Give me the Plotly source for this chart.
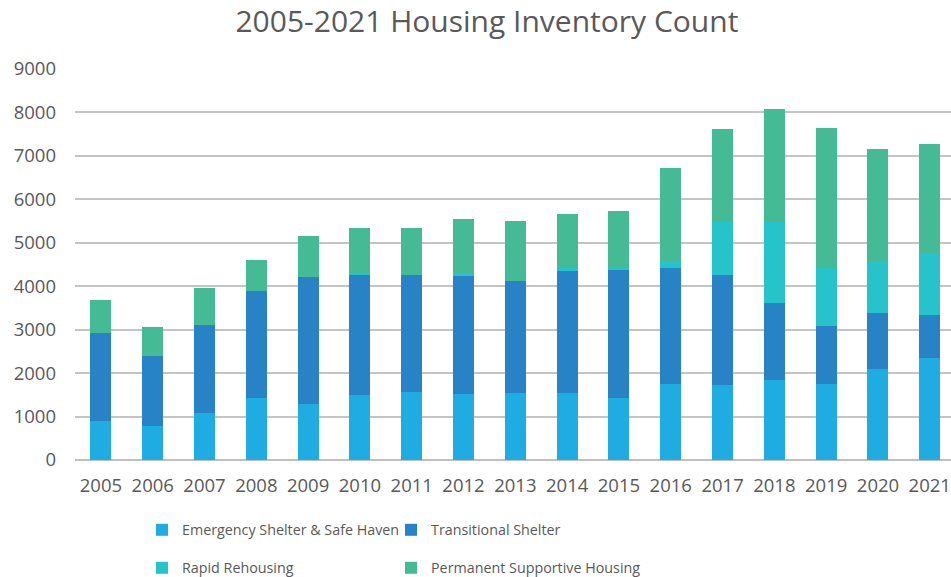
import plotly.graph_objects as go

years = [str(y) for y in range(2005, 2022)]
emergency = [890, 780, 1090, 1435, 1290, 1495, 1560, 1520, 1535, 1535, 1435, 1760, 1735, 1840, 1760, 2095, 2350]
transitional = [2030, 1605, 2015, 2450, 2920, 2765, 2700, 2715, 2585, 2810, 2945, 2660, 2525, 1775, 1325, 1300, 980]
rapid = [0, 0, 0, 0, 0, 40, 0, 60, 0, 75, 45, 160, 1215, 1860, 1335, 1190, 1425]
permanent = [756, 685, 845, 720, 940, 1050, 1090, 1250, 1390, 1235, 1300, 2140, 2140, 2600, 3215, 2570, 2530]

series = [
    ("Emergency Shelter & Safe Haven", emergency, "#1FACE2", "legend"),
    ("Transitional Shelter", transitional, "#2782C6", "legend2"),
    ("Rapid Rehousing", rapid, "#27C3CB", "legend3"),
    ("Permanent Supportive Housing", permanent, "#44BA95", "legend4"),
]

fig = go.Figure()
for name, vals, color, lg in series:
    fig.add_trace(go.Bar(x=years, y=vals, name=name, marker=dict(color=color, line=dict(width=0)),
                         legend=lg, showlegend=True))

text_color = "#595959"
font_family = "Open Sans"

legend_common = dict(orientation="h", xref="container", yref="container",
                     xanchor="left", yanchor="middle", bgcolor="rgba(0,0,0,0)",
                     font=dict(family=font_family, size=14.3, color=text_color),
                     itemwidth=30, visible=True)

col1 = 0.1535 - 4 / 951
col2 = 0.3996 + 11 / 951
row1 = 1 - 530 / 577
row2 = 1 - 568 / 577

fig.update_layout(
    width=951, height=577, autosize=False, showlegend=True,
    barmode="stack", bargap=0.595,
    plot_bgcolor="white", paper_bgcolor="white",
    margin=dict(l=75, r=0, t=69, b=117),
    title=dict(text="2005-2021 Housing Inventory Count", xref="container", yref="container",
               x=0.512, xanchor="center", y=0.962, yanchor="middle",
               font=dict(family=font_family, size=30, color=text_color)),
    legend=dict(x=col1, y=row1, **legend_common),
    legend2=dict(x=col2, y=row1, **legend_common),
    legend3=dict(x=col1, y=row2, **legend_common),
    legend4=dict(x=col2, y=row2, **legend_common),
    xaxis=dict(type="category", range=[-0.5, 16.41], showgrid=False, showline=False, zeroline=False,
               ticks="", tickfont=dict(family=font_family, size=18.5, color=text_color),
               ticklabelstandoff=12),
    yaxis=dict(range=[0, 9000], dtick=1000, tick0=0, showgrid=True, gridcolor="#C4C4C4", gridwidth=1.5,
               zeroline=True, zerolinecolor="#BFBFBF", zerolinewidth=1.5, showline=False, ticks="",
               tickfont=dict(family=font_family, size=18.5, color=text_color), ticklabelstandoff=18),
)

fig.write_html("out.html")
